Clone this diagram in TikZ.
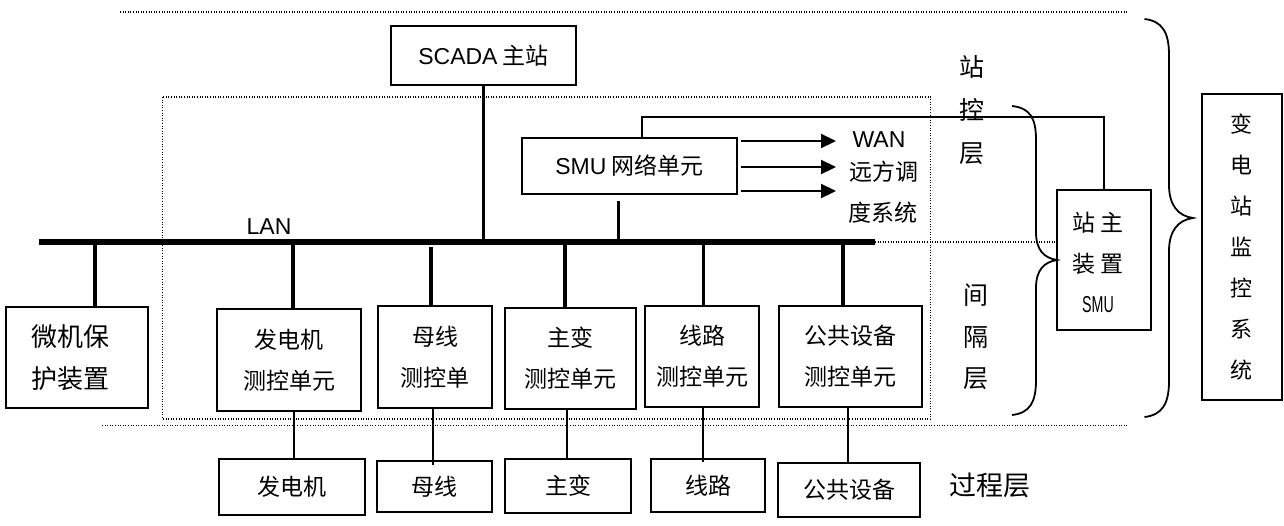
\documentclass[tikz,border=0pt]{standalone}
\usepackage{fontspec}
\setmainfont{Noto Sans CJK SC}
\newfontfamily\lat{Liberation Sans}
\usetikzlibrary{arrows.meta}
\tikzset{
  box/.style={draw, line width=2pt, inner sep=0pt, align=center, font=\fontsize{23}{41}\selectfont},
  lbl/.style={inner sep=0pt, align=center, font=\fontsize{23}{41}\selectfont},
  bus/.style={line width=5.5pt},
  drop/.style={line width=3.6pt},
  thin/.style={line width=2pt},
  dots/.style={line width=1.2pt, dash pattern=on 1pt off 1.6pt},
  arr/.style={line width=2.2pt, -{Triangle[length=15pt,width=14pt]}},
  brace/.style={line width=1.8pt}
}
\begin{document}
\begin{tikzpicture}[x=1pt,y=-1pt]
\useasboundingbox (0,0) rectangle (1284,525);
% dotted layer lines
\coordinate (t1) at (120,12); \coordinate (t2) at (1128,12);
\draw[dots] (t1) -- (t2);
\coordinate (b1) at (102,425.7); \coordinate (b2) at (1128,425.7);
\draw[dots] (b1) -- (b2);
\coordinate (r1) at (162.5,97); \coordinate (r2) at (930.7,419);
\draw[dots] (r1) rectangle (r2);
% nodes
\node[box, minimum width=185pt, minimum height=59pt] (scada) at (483.5,55.5) {{\lat SCADA} 主站};
\node[box, minimum width=215pt, minimum height=56pt] (smu) at (629.5,166) {{\lat SMU} 网络单元};
\node[box, minimum width=94pt, minimum height=140pt,
  label={[lbl, xshift=-6pt, yshift=-2pt]center:{站\hspace{6pt}主\\装\hspace{6pt}置\\[-1pt]{\lat\scalebox{0.62}[1]{SMU}}}}] (station) at (1104,260) {};
\node[box, minimum width=79.5pt, minimum height=306pt, font=\fontsize{22}{41}\selectfont] (sys) at (1241.75,247) {变\\电\\站\\监\\控\\系\\统};
\node[box, minimum width=142pt, minimum height=101pt,
  label={[lbl, font=\fontsize{26}{42}\selectfont, xshift=-7pt]center:{微机保\\护装置}}] (prot) at (77,357.5) {};
\node[box, minimum width=144pt, minimum height=102pt] (u1) at (289,360) {发电机\\测控单元};
\node[box, minimum width=114pt, minimum height=102pt] (u2) at (435,357) {母线\\测控单};
\node[box, minimum width=131pt, minimum height=101pt] (u3) at (570.5,358.5) {主变\\测控单元};
\node[box, minimum width=114pt, minimum height=101pt] (u4) at (702,356.5) {线路\\测控单元};
\node[box, minimum width=142.6pt, minimum height=101pt] (u5) at (850.3,356.5) {公共设备\\测控单元};
\node[box, minimum width=146pt, minimum height=56pt] (p1) at (292,487) {发电机};
\node[box, minimum width=115pt, minimum height=51pt] (p2) at (434.5,486.5) {母线};
\node[box, minimum width=126pt, minimum height=54pt] (p3) at (568,486) {主变};
\node[box, minimum width=114pt, minimum height=53pt] (p4) at (708,485.5) {线路};
\node[box, minimum width=142pt, minimum height=54pt] (p5) at (849,490) {公共设备};
% labels
\node[lbl] (lan) at (269,227) {\lat LAN};
\node[lbl] (wan) at (879,140) {\lat WAN};
\node[lbl] (yf) at (884,172) {远方调};
\node[lbl] (dx) at (883,213) {度系统};
\node[lbl, font=\fontsize{25}{43}\selectfont] (zkc) at (972,110) {站\\控\\层};
\node[lbl, font=\fontsize{25}{41.5}\selectfont] (jgc) at (976,337) {间\\隔\\层};
\node[lbl, font=\fontsize{27}{30}\selectfont] (gcc) at (990,485) {过程层};
% bus
\coordinate (busL) at (39,242); \coordinate (busR) at (875,242);
\draw[bus] (busL) -- (busR);
\coordinate (mid) at (1057,242);
\draw[dots] (busR) -- (mid);
% drops
\draw[drop] (scada.south) -- (scada.south |- busL);
\coordinate (sstub) at (618.6,201);
\draw[drop] (sstub) -- (sstub |- busL);
\coordinate (d0) at (95,242); \draw[drop] (d0) -- (d0 |- prot.north);
\coordinate (d1) at (293,242); \draw[drop] (d1) -- (d1 |- u1.north);
\coordinate (d2) at (431,247); \draw[drop] (d2) -- (d2 |- u2.north);
\coordinate (d3) at (564.7,242); \draw[drop] (d3) -- (d3 |- u3.north);
\coordinate (d4) at (703.4,242); \draw[drop] (d4) -- (d4 |- u4.north);
\coordinate (d5) at (843,242); \draw[drop] (d5) -- (d5 |- u5.north);
% thin lines to process layer
\coordinate (e1) at (294.4,411); \draw[thin] (u1.south -| e1) -- (p1.north -| e1);
\coordinate (e2) at (433,407); \draw[thin] (u2.south -| e2) -- ([yshift=-5pt]p2.north -| e2);
\coordinate (e3) at (567,409); \draw[thin] (u3.south -| e3) -- (p3.north -| e3);
\coordinate (e4) at (703,407); \draw[thin] (u4.south -| e4) -- ([yshift=-4pt]p4.north -| e4);
\coordinate (e5) at (847.8,407); \draw[thin] (u5.south -| e5) -- (p5.north -| e5);
% SMU to station
\draw[line width=2pt] ([xshift=12.5pt]smu.north) -- ++(0,-20) -| (station.north);
% arrows
\coordinate (a1) at (836,141); \coordinate (a2) at (836,167); \coordinate (a3) at (836,191);
\draw[arr] (smu.east |- a1) ++(3,0) -- (a1);
\draw[arr] (smu.east |- a2) ++(3,0) -- (a2);
\draw[arr] (smu.east |- a3) ++(3,0) -- (a3);
% braces
\draw[brace] (1012,106) .. controls (1030,108) and (1036,118) .. (1036,140) -- (1036,232)
  .. controls (1036,250) and (1044,258) .. (1057,260)
  .. controls (1044,262) and (1036,270) .. (1036,288) -- (1036,380)
  .. controls (1036,402) and (1030,413) .. (1012,415);
\draw[brace] (1144.5,19) .. controls (1162,21) and (1169,32) .. (1169,55) -- (1169,185)
  .. controls (1169,205) and (1178,216) .. (1193,218)
  .. controls (1178,220) and (1169,231) .. (1169,251) -- (1169,381)
  .. controls (1169,404) and (1162,415) .. (1144.5,417);
\end{tikzpicture}
\end{document}
